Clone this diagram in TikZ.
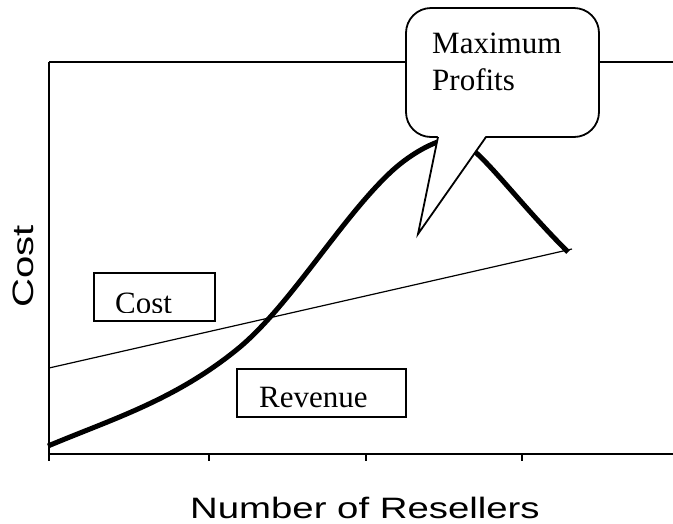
\documentclass[tikz,border=0pt]{standalone}
\usepackage{fontspec}
\usepackage{graphicx}
\setmainfont{Liberation Serif}
\newfontfamily\axisfont{Liberation Sans}
\tikzset{
  axisline/.style={line width=1.4pt},
  costline/.style={line width=1.2pt},
  revcurve/.style={line width=5pt, line join=round},
  labelbox/.style={draw, line width=1.3pt, fill=white},
  boxtext/.style={inner sep=0pt, font=\fontsize{31}{36}\selectfont},
  axistext/.style={inner sep=0pt, font=\axisfont\fontsize{29.5}{34}\selectfont},
  bubble/.style={line width=1.8pt},
}
\begin{document}
\begin{tikzpicture}[x=1pt, y=-1pt]
\useasboundingbox (0,0) rectangle (673,523);

% plot frame
\coordinate (topleft) at (49,62);
\coordinate (topright) at (673,62);
\coordinate (origin) at (49,454);
\coordinate (rightend) at (673,454);
\draw[axisline] (topleft) -- (topright);
\draw[axisline] (topleft) -- (49,461);
\draw[axisline] (origin) -- (rightend);
\foreach \tx in {209,366,522}
  \draw[axisline] (\tx,454) -- (\tx,461);

% cost line
\coordinate (cstart) at (49,368);
\coordinate (cend) at (572,249);
\draw[costline] (cstart) -- (cend);

% revenue curve
\coordinate (r0) at (48,446);
\coordinate (r1) at (240,347);
\coordinate (r2) at (393,170);
\coordinate (rpeak) at (452,139);
\coordinate (rend) at (568,252);
\draw[revcurve] (r0)
  .. controls (112,419) and (176,400) .. (r1)
  .. controls (292,303) and (343,215.5) .. (r2)
  .. controls (413,152) and (438,139) .. (rpeak)
  .. controls (475,140) and (508,192) .. (rend);

% labels in boxes
\draw[labelbox] (94,273) rectangle (215,321);
\begin{scope}
  \clip (94,273) rectangle (215,312);
  \node[boxtext, anchor=base west] (costlabel) at (115,313) {Cost};
\end{scope}
\draw[labelbox] (237,369) rectangle (406,417);
\node[boxtext, anchor=base west] (revlabel) at (259,407) {Revenue};

% speech bubble
\draw[bubble, fill=white, rounded corners=25pt] (406,8) rectangle (599,137);
\fill[white] (438,135.5) -- (418,234) -- (486,135.5) -- cycle;
\draw[bubble, line join=miter] (438,137) -- (418,234) -- (486,137);
\node[boxtext, anchor=base west] (maxlabel) at (432,53) {Maximum};
\node[boxtext, anchor=base west] (proflabel) at (432,90) {Profits};

% axis titles
\node[axistext, rotate=90, anchor=base west] (ytitle) at (33,308) {\scalebox{1.36}[1]{Cost}};
\node[axistext, anchor=base west] (xtitle) at (190,518) {\scalebox{1.3}[1]{Number of Resellers}};
\end{tikzpicture}
\end{document}
